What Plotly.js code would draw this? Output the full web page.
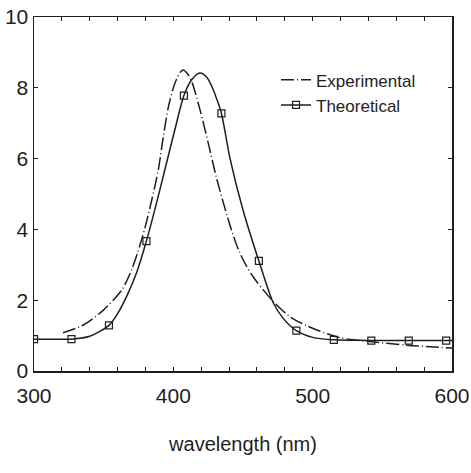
<!DOCTYPE html>
<html>
<head>
<meta charset="utf-8">
<script src="https://cdn.plot.ly/plotly-3.0.1.min.js"></script>
<style>html,body{margin:0;padding:0;background:#fff;}#chart{width:471px;height:473px;}</style>
</head>
<body>
<div id="chart"></div>
<script>
// Experimental spectrum (wavelength nm, value)
var expX = [320.8, 335.4, 349.8, 363, 370, 376, 380, 384.5, 389.2, 392.8, 396.4, 400, 402.4, 405, 407.2, 410.8, 413.2, 419.2, 425.1, 431, 437, 442, 447, 452.7, 458, 464.6, 471.8, 483.8, 495.8, 503, 519.7, 541, 567.5, 600];
var expY = [1.08, 1.30, 1.72, 2.29, 2.85, 3.55, 4.10, 4.83, 5.68, 6.62, 7.45, 8.00, 8.25, 8.44, 8.50, 8.36, 8.18, 7.37, 6.43, 5.45, 4.60, 3.95, 3.40, 2.95, 2.62, 2.29, 1.96, 1.53, 1.28, 1.16, 0.94, 0.83, 0.73, 0.65];

// Theoretical spectrum (wavelength nm, value)
var theoX = [300, 313, 326.9, 340, 353.8, 360, 367, 374, 380.7, 387, 394, 401, 407.6, 413, 419, 424, 427.5, 431, 434.5, 440.7, 450, 461.4, 471.8, 479, 488.3, 500, 515.2, 530, 542.1, 569, 595.8, 600];
var theoY = [0.90, 0.90, 0.90, 0.98, 1.29, 1.62, 2.15, 2.82, 3.67, 4.60, 5.70, 6.80, 7.78, 8.22, 8.42, 8.30, 8.05, 7.70, 7.28, 6.00, 4.55, 3.11, 1.92, 1.48, 1.14, 0.95, 0.88, 0.87, 0.86, 0.86, 0.86, 0.86];

// wavelengths at which the theoretical curve carries a square marker
var markerX = [300, 326.9, 353.8, 380.7, 407.6, 434.5, 461.4, 488.3, 515.2, 542.1, 569, 595.8];

var seriesNames = ['Experimental', 'Theoretical'];
var axisTitleX = 'wavelength (nm)';

var ink = '#1e1e1e';
var font = 'Liberation Sans, Arial, sans-serif';

var traces = [
  {
    x: expX, y: expY, name: seriesNames[0], type: 'scatter', mode: 'lines',
    line: {color: ink, width: 1.5, dash: '13px,3px,1px,3px', shape: 'spline', smoothing: 0.8}
  },
  {
    x: theoX, y: theoY, name: seriesNames[1], type: 'scatter', mode: 'lines+markers',
    line: {color: ink, width: 1.5, shape: 'spline', smoothing: 0.8},
    marker: {
      symbol: 'square-open', size: 7,
      color: theoX.map(function (v) { return markerX.indexOf(v) >= 0 ? ink : 'rgba(0,0,0,0)'; }),
      line: {width: 1.2}
    }
  }
];

var layout = {
  width: 471, height: 473,
  margin: {l: 34, r: 19, t: 17, b: 102},
  paper_bgcolor: '#ffffff', plot_bgcolor: '#ffffff',
  font: {family: font, color: ink},
  showlegend: true,
  legend: {
    x: 0.579, xanchor: 'left', y: 0.872, yanchor: 'top',
    bgcolor: 'rgba(0,0,0,0)', borderwidth: 0,
    font: {family: font, size: 17, color: ink},
    tracegroupgap: 0
  },
  xaxis: {
    range: [300, 600], tick0: 300, dtick: 100,
    ticks: 'inside', ticklen: 4, tickwidth: 1, tickcolor: ink,
    minor: {dtick: 20, ticks: 'inside', ticklen: 4, tickwidth: 1, tickcolor: ink, showgrid: false},
    showline: true, linecolor: ink, linewidth: 1.5, mirror: 'ticks',
    showgrid: false, zeroline: false,
    tickfont: {family: font, size: 21, color: ink},
    ticklabelstandoff: 5,
    title: {text: axisTitleX, font: {family: font, size: 20, color: ink}, standoff: 31}
  },
  yaxis: {
    range: [0, 10], tick0: 0, dtick: 2,
    ticks: 'inside', ticklen: 4, tickwidth: 1, tickcolor: ink,
    showline: true, linecolor: ink, linewidth: 1.5, mirror: 'ticks',
    showgrid: false, zeroline: false,
    tickfont: {family: font, size: 21, color: ink}
  }
};

Plotly.newPlot('chart', traces, layout, {displayModeBar: false, staticPlot: true});
</script>
</body>
</html>
